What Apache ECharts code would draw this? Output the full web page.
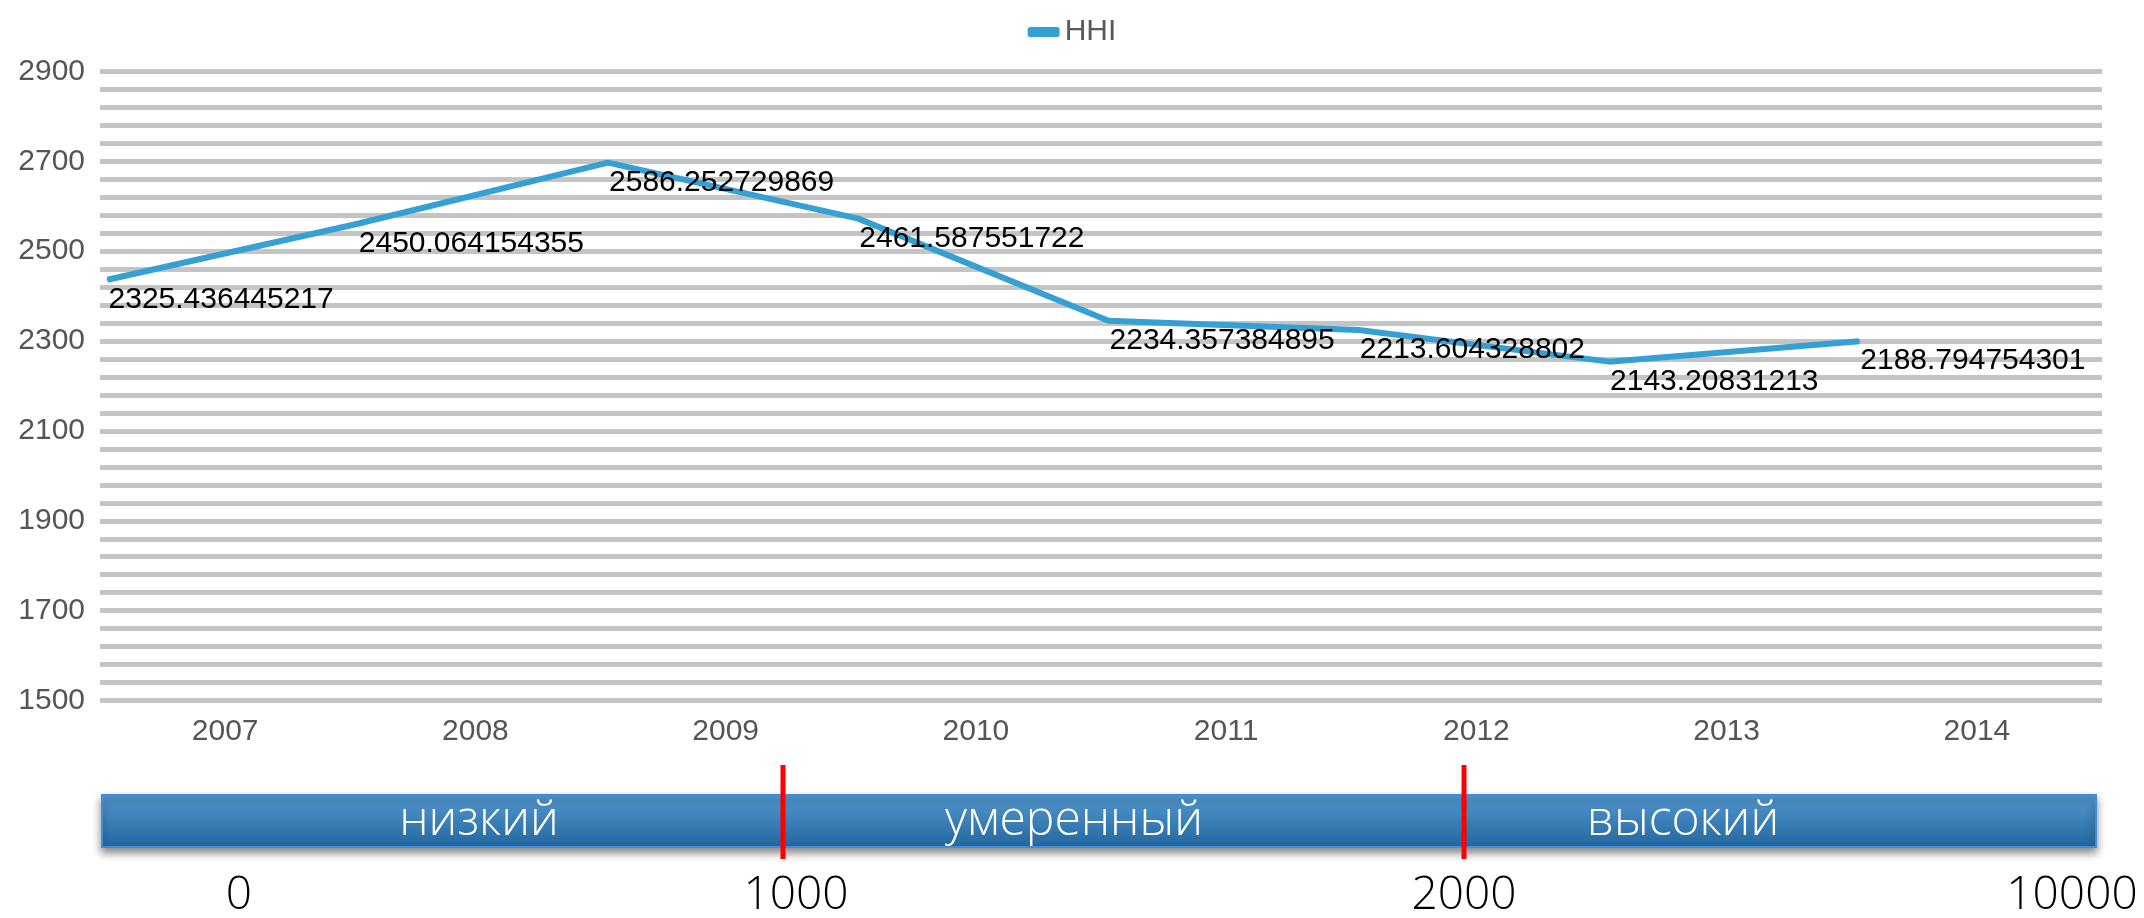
<!DOCTYPE html>
<html>
<head>
<meta charset="utf-8">
<script src="https://cdn.jsdelivr.net/npm/echarts@6/dist/echarts.min.js"></script>
<style>
html,body{margin:0;padding:0;background:#fff;}
#chart{width:2144px;height:918px;}
</style>
</head>
<body>
<div id="chart"></div>
<script>
// ---- data ----
const years = ['2007', '2008', '2009', '2010', '2011', '2012', '2013', '2014'];
const hhiValues = [2325.436445217, 2450.064154355, 2586.252729869, 2461.587551722,
                   2234.357384895, 2213.604328802, 2143.20831213, 2188.794754301];
const seriesName = 'HHI';
const yMin = 1500, yMax = 2900, yGridStep = 40, yLabelStep = 200;
const bandLabels = ['низкий', 'умеренный', 'высокий'];
const thresholdLabels = ['0', '1000', '2000', '10000'];

// ---- layout / style ----
const lineColor = '#35a0d3';
const font = 'Liberation Sans, Arial, sans-serif';
const chart = echarts.init(document.getElementById('chart'), null, {renderer: 'canvas'});

const lineData = hhiValues.map((v, i) => [i, v]);

const bandCenters = [479, 1074, 1683];
const thresholdX = [239, 796, 1464, 2072];
const redLineX = [783, 1464];

const graphics = [
  {
    type: 'rect', z: 10,
    shape: {x: 102, y: 795, width: 1994, height: 52},
    style: {
      fill: new echarts.graphic.LinearGradient(0, 0, 0, 1, [
        {offset: 0, color: '#5499d1'}, {offset: 1, color: '#23669f'}
      ]),
      stroke: '#3d8ed6', lineWidth: 2,
      shadowBlur: 8, shadowOffsetY: 5, shadowColor: 'rgba(0,0,0,0.45)'
    }
  }
];
bandLabels.forEach((t, i) => graphics.push({
  type: 'text', z: 11, x: bandCenters[i], y: 821,
  style: {text: t, fill: '#ffffff', font: '300 48px "Open Sans", "Noto Sans", sans-serif',
          align: 'center', verticalAlign: 'middle'}
}));
redLineX.forEach(x => graphics.push({
  type: 'line', z: 12,
  shape: {x1: x, y1: 765, x2: x, y2: 859},
  style: {stroke: '#ff0000', lineWidth: 5}
}));
thresholdLabels.forEach((t, i) => graphics.push({
  type: 'text', z: 11, x: thresholdX[i], y: 896,
  style: {text: t, fill: '#000000', font: '300 46px "Open Sans", "Noto Sans", sans-serif',
          align: 'center', verticalAlign: 'middle'}
}));

chart.setOption({
  animation: false,
  backgroundColor: '#ffffff',
  legend: {
    data: [seriesName], left: 'center', top: 12,
    icon: 'roundRect', itemWidth: 32, itemHeight: 10, itemGap: 5,
    textStyle: {fontSize: 30, color: '#595959', fontFamily: font}
  },
  grid: {left: 100, right: 42, top: 71.5, bottom: 217.5, containLabel: false},
  xAxis: [
    {
      type: 'category', data: years, boundaryGap: true,
      axisLine: {show: false}, axisTick: {show: false},
      axisLabel: {fontSize: 30, color: '#555555', fontFamily: font, margin: 16}
    },
    {
      type: 'value', min: -0.03, max: 7.97, show: false
    }
  ],
  yAxis: [
    {
      type: 'value', min: yMin, max: yMax, interval: yGridStep,
      axisLine: {show: false}, axisTick: {show: false},
      splitLine: {show: true, lineStyle: {color: '#c4c4c4', width: 5}},
      axisLabel: {
        fontSize: 30, color: '#555555', fontFamily: font, margin: 15,
        formatter: v => (Math.round(v - yMin) % yLabelStep === 0 ? String(Math.round(v)) : '')
      }
    },
    {
      type: 'value', min: 1389, max: 2789, show: false, splitLine: {show: false}
    }
  ],
  series: [{
    name: seriesName, type: 'line', xAxisIndex: 1, yAxisIndex: 1,
    data: lineData,
    symbol: 'circle', symbolSize: 2, showSymbol: true,
    itemStyle: {color: lineColor},
    lineStyle: {color: lineColor, width: 6},
    label: {
      show: true, position: 'right', distance: 0, offset: [0, 20],
      align: 'left', verticalAlign: 'middle',
      fontSize: 30, color: '#000000', fontFamily: font,
      formatter: p => String(hhiValues[p.dataIndex])
    },
    z: 3
  }],
  graphic: graphics
});
</script>
</body>
</html>
